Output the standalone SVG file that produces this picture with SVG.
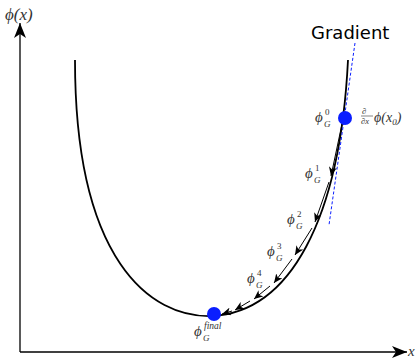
<svg xmlns="http://www.w3.org/2000/svg" width="420" height="358" viewBox="0 0 420 358">
<style>
.ax{stroke:#000;stroke-width:1.3;fill:none}
.curve{stroke:#000;stroke-width:1.8;fill:none}
.step{stroke:#000;stroke-width:1;fill:none}
.m{font-family:"Liberation Serif","DejaVu Serif",serif;font-style:italic;fill:#333}
.r{font-family:"Liberation Serif","DejaVu Serif",serif;fill:#333}
.dot{fill:#0a1eff}
</style>
<defs>
<marker id="big" markerUnits="userSpaceOnUse" markerWidth="16" markerHeight="12" refX="15" refY="6" orient="auto">
<path d="M0,0 L15,6 L0,12 L4,6 z" fill="#000"/>
</marker>
<marker id="sm" markerUnits="userSpaceOnUse" markerWidth="9" markerHeight="8" refX="9" refY="4" orient="auto">
<path d="M0,0 L9,4 L0,8 L2.5,4 z" fill="#000"/>
</marker>
</defs>
<g id="axes">
<line class="ax" x1="20" y1="352" x2="20" y2="23" marker-end="url(#big)"/>
<line class="ax" x1="20" y1="352" x2="407" y2="352" marker-end="url(#big)"/>
<text class="m" x="5" y="20" font-size="17">ϕ<tspan class="r">(</tspan>x<tspan class="r">)</tspan></text>
<text class="m" x="408" y="356" font-size="15">x</text>
</g>
<g id="curve">
<path class="curve" d="M75,60 C75,260 150,318 212,316 C290,312 340,220 348,60"/>
</g>
<g id="gradient">
<line x1="355" y1="43" x2="329" y2="225" stroke="#0a1eff" stroke-width="1" stroke-dasharray="3,2"/>
<text x="311" y="39" font-family="DejaVu Sans,sans-serif" font-size="18" fill="#000">Gradient</text>
</g>
<g id="connectors">
<line class="step" x1="342" y1="124" x2="331" y2="176" marker-end="url(#sm)"/>
<line class="step" x1="329" y1="182" x2="315" y2="222" marker-end="url(#sm)"/>
<line class="step" x1="312" y1="228" x2="295" y2="255" marker-end="url(#sm)"/>
<line class="step" x1="292" y1="259" x2="274" y2="283" marker-end="url(#sm)"/>
<line class="step" x1="270" y1="286" x2="254" y2="299" marker-end="url(#sm)"/>
<line class="step" x1="250" y1="301" x2="235" y2="310" marker-end="url(#sm)"/>
<line class="step" x1="232" y1="311" x2="222" y2="314" marker-end="url(#sm)"/>
</g>
<g id="x0">
<circle class="dot" cx="345" cy="118" r="7"/>
<text class="m" x="315" y="122" font-size="15">ϕ</text>
<text class="r" x="325" y="115" font-size="9">0</text>
<text class="m" x="324" y="127" font-size="9">G</text>
<text class="m" x="362" y="114" font-size="8.5">∂</text>
<line x1="361" y1="116" x2="373" y2="116" stroke="#333" stroke-width="0.6"/>
<text class="m" x="361" y="124" font-size="8.5">∂x</text>
<text class="m" x="374" y="122" font-size="14">ϕ<tspan class="r">(</tspan>x<tspan font-size="9" dy="3">0</tspan><tspan class="r" dy="-3">)</tspan></text>
</g>
<g id="x1">
<text class="m" x="305" y="178" font-size="15">ϕ</text>
<text class="r" x="315" y="171" font-size="9">1</text>
<text class="m" x="314" y="183" font-size="9">G</text>
</g>
<g id="x2">
<text class="m" x="287" y="224" font-size="15">ϕ</text>
<text class="r" x="297" y="217" font-size="9">2</text>
<text class="m" x="296" y="229" font-size="9">G</text>
</g>
<g id="x3">
<text class="m" x="267" y="256" font-size="15">ϕ</text>
<text class="r" x="277" y="249" font-size="9">3</text>
<text class="m" x="276" y="261" font-size="9">G</text>
</g>
<g id="x4">
<text class="m" x="247" y="283" font-size="15">ϕ</text>
<text class="r" x="257" y="276" font-size="9">4</text>
<text class="m" x="256" y="288" font-size="9">G</text>
</g>
<g id="xfinal">
<circle class="dot" cx="214" cy="314" r="7"/>
<text class="m" x="194" y="336" font-size="15">ϕ</text>
<text class="m" x="204" y="329" font-size="9.5">final</text>
<text class="m" x="203" y="341" font-size="9">G</text>
</g>
</svg>
